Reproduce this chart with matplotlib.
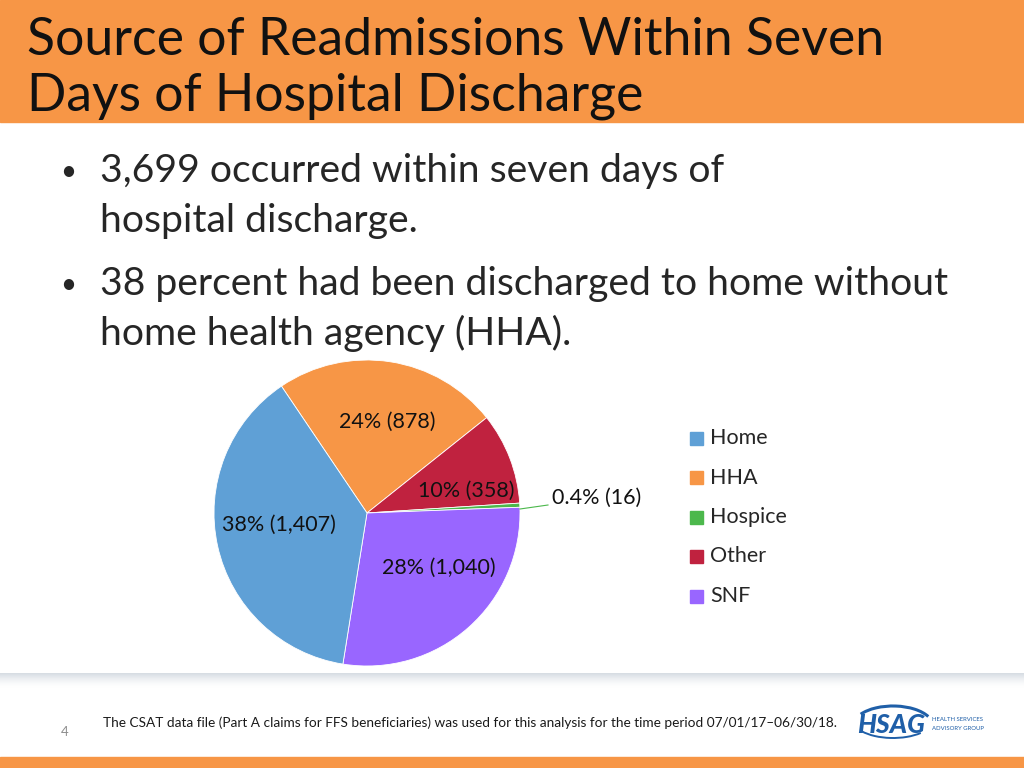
import numpy as np
import matplotlib.pyplot as plt
from matplotlib.patches import Rectangle, Arc
from matplotlib.colors import LinearSegmentedColormap

plt.rcParams['font.family'] = ['Lato', 'DejaVu Sans']

# data
categories = ['Home', 'HHA', 'Hospice', 'Other', 'SNF']
counts = [1407, 878, 16, 358, 1040]
colors = ['#5fa0d6', '#f79646', '#4cb84c', '#c0223f', '#9966ff']
# clockwise order of the slices in the pie
pie_order = ['HHA', 'Other', 'Hospice', 'SNF', 'Home']

title_lines = ['Source of Readmissions Within Seven', 'Days of Hospital Discharge']
bullets = [['3,699 occurred within seven days of', 'hospital discharge.'],
           ['38 percent had been discharged to home without', 'home health agency (HHA).']]
footnote = ('The CSAT data file (Part A claims for FFS beneficiaries) was used for this '
            'analysis for the time period 07/01/17\u201306/30/18.')

W, H = 1024, 768
fig = plt.figure(figsize=(W / 100, H / 100), dpi=100)

# overlay axes in pixel coords for the slide decorations
bg = fig.add_axes([0, 0, 1, 1])
bg.set_xlim(0, W)
bg.set_ylim(H, 0)
bg.axis('off')

# header band
bg.add_patch(Rectangle((0, 0), W, 122, color='#f79646', zorder=0))
bg.text(27, 55, title_lines[0], fontsize=37.3, color='#111111', va='baseline')
bg.text(27, 110, title_lines[1], fontsize=37.3, color='#111111', va='baseline')

# bullets
y = 182
for b in bullets:
    bg.text(68, y - 10, '\u2022', fontsize=20, color='#262626', va='center', ha='center')
    for i, line in enumerate(b):
        bg.text(100, y, line, fontsize=28.2, color='#262626', va='baseline')
        y += 50
    y += 13

# footer shadow
shade = LinearSegmentedColormap.from_list('shade', ['#ffffff', '#d6dce3'])
grad = np.linspace(0, 1, 40).reshape(-1, 1) ** 1.6
bg.imshow(grad, cmap=shade, vmin=0, vmax=1,
          extent=(0, W, 688, 673), aspect='auto', zorder=0, origin='lower')
bg.text(65, 736, '4', fontsize=9.5, color='#8c8c8c', ha='center', va='baseline')
bg.text(470, 727, footnote, fontsize=9.8, color='#1a1a1a', ha='center', va='baseline')
bg.add_patch(Rectangle((0, 757), W, 11, color='#f79646', zorder=0))

# logo
blue = '#1f5fa8'
bg.text(891, 733, 'HSAG', fontsize=19, fontweight='black', style='italic',
        color=blue, ha='center', va='baseline')
bg.add_patch(Arc((893, 726), 80, 40, theta1=200, theta2=345, color=blue, lw=2.2))
bg.add_patch(Arc((893, 720), 80, 36, theta1=25, theta2=160, color=blue, lw=1.4))
bg.text(932, 721, 'HEALTH SERVICES', fontsize=4.3, color=blue, va='baseline')
bg.text(932, 730, 'ADVISORY GROUP', fontsize=4.3, color=blue, va='baseline')

# pie
cx, cy, r = 367, 513, 153
ax = fig.add_axes([(cx - r) / W, (H - cy - r) / H, 2 * r / W, 2 * r / H])
vals = [counts[categories.index(c)] for c in pie_order]
cols = [colors[categories.index(c)] for c in pie_order]
ax.pie(vals, colors=cols, startangle=124, counterclock=False, radius=1,
       wedgeprops=dict(linewidth=0.6, edgecolor='white'))
ax.set_xlim(-1, 1)
ax.set_ylim(-1, 1)
ax.set_aspect('equal')
ax.axis('off')

total = sum(counts)
def lab(n):
    p = 100 * n / total
    return f'{p:.1f}% ({n:,})' if p < 1 else f'{p:.0f}% ({n:,})'

# label positions in pixels
label_pos = {'Home': (279, 525), 'HHA': (387, 422), 'Other': (466, 491),
             'SNF': (439, 568), 'Hospice': (597, 498)}
for c in categories:
    px, py = label_pos[c]
    ax.text((px - cx) / r, (cy - py) / r, lab(counts[categories.index(c)]),
            fontsize=15.5, color='#111111', ha='center', va='center',
            zorder=5, clip_on=False)
ax.plot([(520 - cx) / r, (548 - cx) / r], [(cy - 509) / r, (cy - 505) / r],
        color='#4cb84c', lw=0.8, zorder=5, clip_on=False)

# legend
for i, c in enumerate(categories):
    ly = 438 + i * 39.5
    bg.add_patch(Rectangle((690, ly - 6.5), 13, 13, color=colors[i]))
    bg.text(710, ly, c, fontsize=15.5, color='#262626', va='center')

fig.savefig('out.png', dpi=100)
